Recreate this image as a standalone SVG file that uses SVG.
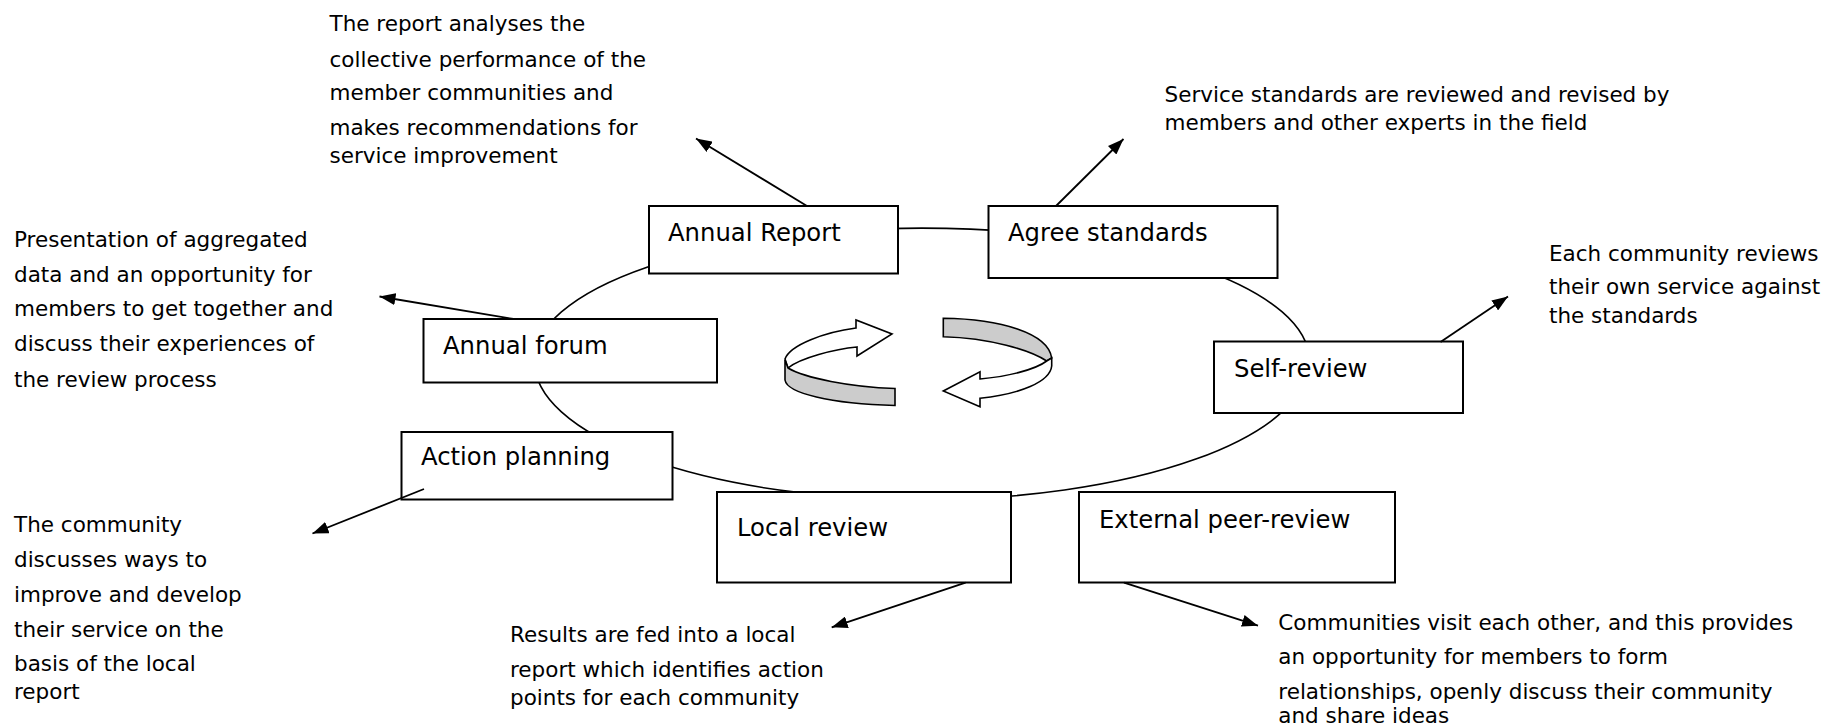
<svg xmlns="http://www.w3.org/2000/svg" width="1825" height="727" viewBox="0 0 1825 727">
<style>
.box{fill:#fff;stroke:#000;stroke-width:2}
.lbl{font-family:"DejaVu Sans",Verdana,sans-serif;font-size:24.3px;fill:#000}
.ann{font-family:"DejaVu Sans",Verdana,sans-serif;font-size:21.5px;fill:#000}
.ring{fill:none;stroke:#000;stroke-width:1.6}
.arr{fill:none;stroke:#000;stroke-width:1.8;marker-end:url(#ah)}
.ic{stroke:#000;stroke-width:1.6;stroke-linejoin:miter}
</style>
<defs>
<marker id="ah" markerUnits="userSpaceOnUse" markerWidth="17" markerHeight="12" refX="16" refY="6" orient="auto">
<path d="M0,0 L16,6 L0,12 Z" fill="#000"/>
</marker>
</defs>
<rect width="1825" height="727" fill="#fff"/>
<g id="ring">
<path class="ring" d="M534.2,360.8 A387.6 132.7 0 0 1 1309.4,360.8 A387.6 139 0 0 1 534.2,360.8 Z"/>
</g>
<g id="cycle-icon">
<path class="ic" fill="#fff" d="M785,359 C790,345 825,332 856,328 L856,320 L892,334 L857,356 L857,347 C835,349 800,358 788,368 Z"/>
<path class="ic" fill="#cccccc" d="M785,360 L785,380 C787,393 830,404 895,405.5 L895,388.5 C850,387 805,378 788,368 Z"/>
<path class="ic" fill="#cccccc" d="M943.3,318.3 C1000,319 1048,333 1051.7,358 L1046.7,361 C1030,350 990,338 943.3,336.7 Z"/>
<path class="ic" fill="#fff" d="M1051.7,358 L1051.7,366 C1050,382 1020,394 980,398.3 L980,406.7 L943.3,391 L980,371.7 L980,379 C1005,377 1035,370 1046.7,361 Z"/>
</g>
<g id="annual-report">
<rect class="box" x="649" y="206" width="249" height="67.5"/>
<text class="lbl" x="668" y="241">Annual Report</text>
</g>
<g id="agree-standards">
<rect class="box" x="988.5" y="206" width="289" height="72"/>
<text class="lbl" x="1008" y="241">Agree standards</text>
</g>
<g id="self-review">
<rect class="box" x="1214" y="341.5" width="249" height="71.5"/>
<text class="lbl" x="1234" y="377">Self-review</text>
</g>
<g id="external-peer-review">
<rect class="box" x="1079" y="492" width="316" height="90.5"/>
<text class="lbl" x="1099" y="528">External peer-review</text>
</g>
<g id="local-review">
<rect class="box" x="717" y="492" width="294" height="90.5"/>
<text class="lbl" x="737" y="536">Local review</text>
</g>
<g id="action-planning">
<rect class="box" x="401.5" y="432" width="271" height="67.5"/>
<text class="lbl" x="421" y="465">Action planning</text>
</g>
<g id="annual-forum">
<rect class="box" x="423.5" y="319" width="293.5" height="63.5"/>
<text class="lbl" x="443" y="353.5">Annual forum</text>
</g>
<g id="connectors">
<line class="arr" x1="807" y1="206" x2="696" y2="138.5"/>
<line class="arr" x1="1056" y1="206" x2="1123.5" y2="139"/>
<line class="arr" x1="1440.5" y1="342" x2="1508" y2="296.5"/>
<line class="arr" x1="513.5" y1="319" x2="379.5" y2="296.5"/>
<line class="arr" x1="424" y1="489" x2="312.5" y2="533.5"/>
<line class="arr" x1="965.6" y1="582.7" x2="831.7" y2="627.3"/>
<line class="arr" x1="1124" y1="582.7" x2="1258" y2="625.7"/>
</g>
<g id="note-annual-report">
<text class="ann" x="329.5" y="31">The report analyses the</text>
<text class="ann" x="329.5" y="66.5">collective performance of the</text>
<text class="ann" x="329.5" y="100">member communities and</text>
<text class="ann" x="329.5" y="134.5">makes recommendations for</text>
<text class="ann" x="329.5" y="163">service improvement</text>
</g>
<g id="note-agree-standards">
<text class="ann" x="1164.5" y="101.5">Service standards are reviewed and revised by</text>
<text class="ann" x="1164.5" y="129.5">members and other experts in the field</text>
</g>
<g id="note-annual-forum">
<text class="ann" x="14" y="246.5">Presentation of aggregated</text>
<text class="ann" x="14" y="281.5">data and an opportunity for</text>
<text class="ann" x="14" y="316">members to get together and</text>
<text class="ann" x="14" y="350.5">discuss their experiences of</text>
<text class="ann" x="14" y="387">the review process</text>
</g>
<g id="note-self-review">
<text class="ann" x="1549" y="261.3">Each community reviews</text>
<text class="ann" x="1549" y="293.7">their own service against</text>
<text class="ann" x="1549" y="323">the standards</text>
</g>
<g id="note-action-planning">
<text class="ann" x="14" y="532">The community</text>
<text class="ann" x="14" y="567">discusses ways to</text>
<text class="ann" x="14" y="601.5">improve and develop</text>
<text class="ann" x="14" y="636.5">their service on the</text>
<text class="ann" x="14" y="671">basis of the local</text>
<text class="ann" x="14" y="699">report</text>
</g>
<g id="note-local-review">
<text class="ann" x="510" y="641.5">Results are fed into a local</text>
<text class="ann" x="510" y="676.5">report which identifies action</text>
<text class="ann" x="510" y="704.5">points for each community</text>
</g>
<g id="note-external-peer-review">
<text class="ann" x="1278.3" y="630.3">Communities visit each other, and this provides</text>
<text class="ann" x="1278.3" y="664">an opportunity for members to form</text>
<text class="ann" x="1278.3" y="698.5">relationships, openly discuss their community</text>
<text class="ann" x="1278.3" y="723">and share ideas</text>
</g>
</svg>
